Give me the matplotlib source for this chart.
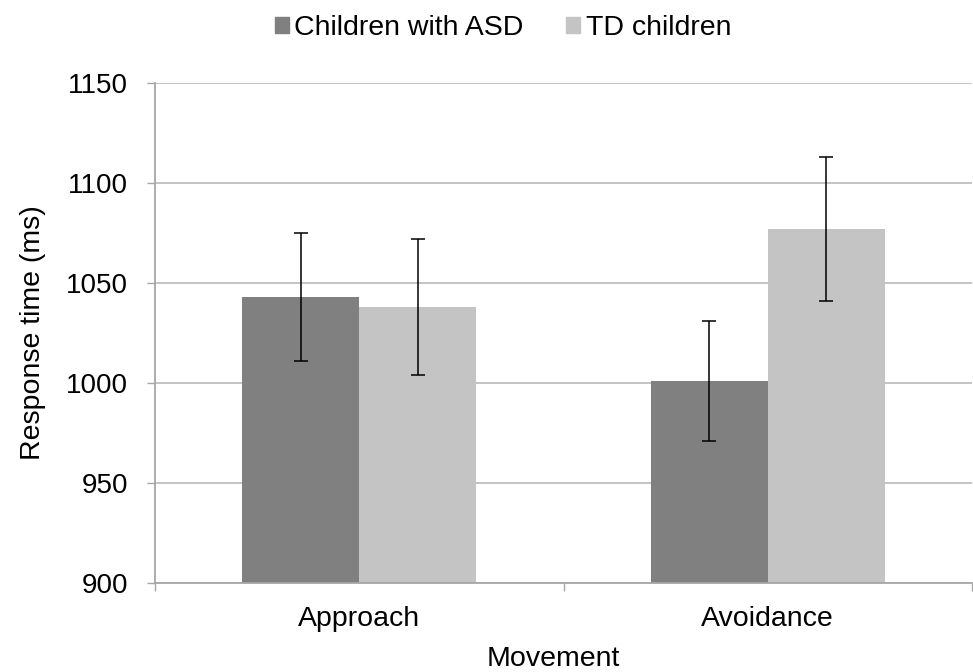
import matplotlib
matplotlib.use("Agg")
import matplotlib.pyplot as plt
import numpy as np
from matplotlib.patches import Patch

plt.rcParams['font.family'] = ['Liberation Sans', 'DejaVu Sans']

categories = ["Approach", "Avoidance"]
series_names = ["Children with ASD", "TD children"]
asd_values = [1043, 1001]
td_values = [1038, 1077]
asd_err = [32, 30]
td_err = [34, 36]
colors = ["#808080", "#C4C4C4"]

fig = plt.figure(figsize=(9.73, 6.72), dpi=100)
ax = fig.add_axes([155/973, 89/672, 817/973, 500/672])

x = np.arange(len(categories))
w = 0.286
ax.bar(x - w/2, asd_values, w, color=colors[0], zorder=2)
ax.bar(x + w/2, td_values, w, color=colors[1], zorder=2)
ax.errorbar(x - w/2, asd_values, yerr=asd_err, fmt='none', ecolor='black',
            elinewidth=1.1, capsize=4.7, capthick=1.1, zorder=3)
ax.errorbar(x + w/2, td_values, yerr=td_err, fmt='none', ecolor='black',
            elinewidth=1.1, capsize=4.7, capthick=1.1, zorder=3)

ax.set_xlim(-0.5, 1.5)
ax.set_ylim(900, 1150)
ax.set_yticks([900, 950, 1000, 1050, 1100, 1150])
ax.yaxis.grid(True, color="#BFBFBF", linewidth=1.3, zorder=0)
ax.set_axisbelow(True)

ax.set_xticks(x)
ax.set_xticklabels(categories)
ax.set_xticks([-0.5, 0.5, 1.5], minor=True)
ax.tick_params(axis='x', which='major', length=0, pad=16.5, labelsize=20.5)
ax.tick_params(axis='x', which='minor', length=6, color="#A6A6A6", width=1)
ax.tick_params(axis='y', length=6, color="#A6A6A6", width=1, labelsize=20, pad=13.5)

for s in ['top', 'right']:
    ax.spines[s].set_visible(False)
for s in ['left', 'bottom']:
    ax.spines[s].set_color("#A6A6A6")
    ax.spines[s].set_linewidth(1.3)

ax.set_xlabel("Movement", fontsize=20.5, labelpad=10)
ax.xaxis.set_label_coords((553 - 155) / 817, -0.125)
ax.xaxis.label.set_va('top')
ax.set_ylabel("Response time (ms)", fontsize=20.5, labelpad=14.5)

handles = [Patch(color=colors[0]), Patch(color=colors[1])]
fig.legend(handles, series_names, loc='center', bbox_to_anchor=(503/973, 1 - 28/672),
           ncol=2, frameon=False, fontsize=20.5, handlelength=0.48, handleheight=0.48,
           handletextpad=0.2, columnspacing=1.5, borderpad=0)

fig.savefig("out.png", dpi=100)
